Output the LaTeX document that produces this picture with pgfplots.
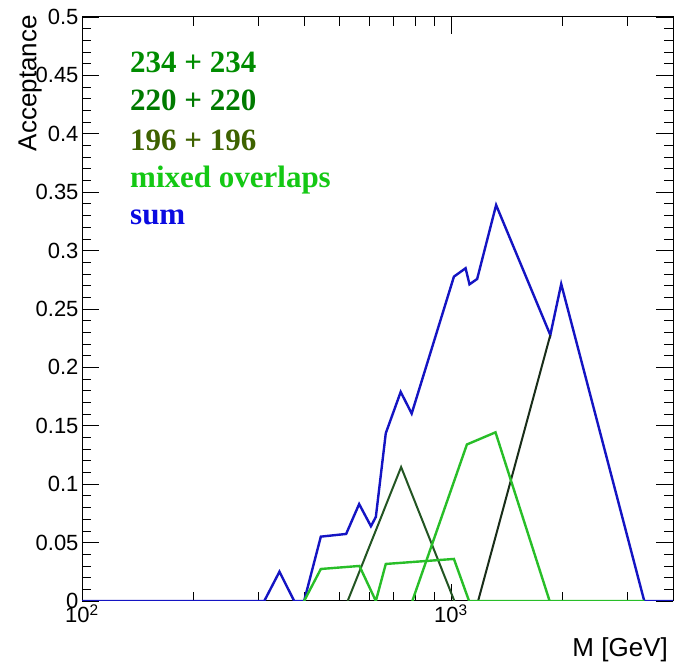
\documentclass[border=0pt]{standalone}
\usepackage{fontspec}
\setmainfont{Liberation Sans}
\newfontfamily\legfont{Liberation Serif}
\usepackage{pgfplots}
\pgfplotsset{compat=1.18}

\definecolor{c234}{RGB}{0,140,0}
\definecolor{c220}{RGB}{0,122,0}
\definecolor{c196}{RGB}{62,98,0}
\definecolor{cmix}{RGB}{20,200,20}
\definecolor{csum}{RGB}{10,10,225}
\definecolor{lsum}{RGB}{20,20,195}
\definecolor{lmix}{RGB}{40,190,40}
\definecolor{ldarkA}{RGB}{35,85,35}
\definecolor{ldarkB}{RGB}{25,45,25}

\begin{document}
\begin{tikzpicture}
\begin{axis}[
  scale only axis, width=591pt, height=584pt,
  xmode=log, log basis x=10,
  xmin=100, xmax=4000, ymin=0, ymax=0.5,
  xtick={100,1000},
  xticklabels={10\textsuperscript{2},10\textsuperscript{3}},
  minor xtick={200,300,400,500,600,700,800,900,2000,3000},
  ytick={0,0.05,0.1,0.15,0.2,0.25,0.3,0.35,0.4,0.45,0.5},
  minor y tick num=4,
  tick pos=both, tick align=inside,
  xticklabel pos=lower, yticklabel pos=left,
  major tick length=17pt, minor tick length=9pt,
  tick style={black, line width=0.8pt},
  axis line style={black, line width=1pt},
  ticklabel style={font=\fontsize{22}{22}\selectfont},
  /pgf/number format/assume math mode=true,
  yticklabel style={/pgf/number format/fixed, /pgf/number format/precision=2},
]
% sum
\addplot[lsum, line width=2.4pt, no markers] coordinates {
  (100,0) (312,0) (343,0.0251) (376,0) (400,0) (444,0.0551) (520,0.0574)
  (564,0.083) (607,0.064) (626,0.072) (666,0.1436) (731,0.179) (783,0.1605)
  (1019,0.2777) (1096,0.2849) (1123,0.2711) (1178,0.2757) (1326,0.339)
  (1860,0.2277) (1991,0.2714) (3343,0) (4000,0)};
% single-mass components
\addplot[ldarkA, line width=2pt, no markers] coordinates {
  (525,0) (733,0.1147) (1022,0)};
\addplot[ldarkB, line width=2pt, no markers] coordinates {
  (1185,0) (1860,0.2277)};
% mixed overlaps
\addplot[lmix, line width=2.4pt, no markers] coordinates {
  (400,0) (444,0.0274) (565,0.030) (626,0) (666,0.0317) (1019,0.036)
  (1120,0) (3343,0)};
\addplot[lmix, line width=2.4pt, no markers] coordinates {
  (786,0) (1105,0.134) (1321,0.1444) (1852,0)};
\end{axis}

\begin{scope}[every node/.style={inner sep=0pt, anchor=base west,
    font=\legfont\bfseries\fontsize{31}{31}\selectfont}]
\node[text=c234] at ([shift={(48pt,-56pt)}]current axis.north west) {234 + 234};
\node[text=c220] at ([shift={(48pt,-94pt)}]current axis.north west) {220 + 220};
\node[text=c196] at ([shift={(48pt,-133.5pt)}]current axis.north west) {196 + 196};
\node[text=cmix] at ([shift={(48pt,-170.5pt)}]current axis.north west) {mixed overlaps};
\node[text=csum] at ([shift={(48pt,-208pt)}]current axis.north west) {sum};
\end{scope}

\node[rotate=90, anchor=south east, inner sep=0pt, font=\fontsize{26}{26}\selectfont]
  at ([shift={(-40pt,2pt)}]current axis.north west) {Acceptance};
\node[anchor=base east, inner sep=0pt, font=\fontsize{26}{26}\selectfont]
  at ([shift={(-5pt,-56pt)}]current axis.south east) {M [GeV]};

\pgfresetboundingbox
\path ([shift={(-82pt,-62pt)}]current axis.south west)
  rectangle ([shift={(3pt,17pt)}]current axis.north east);
\end{tikzpicture}
\end{document}
